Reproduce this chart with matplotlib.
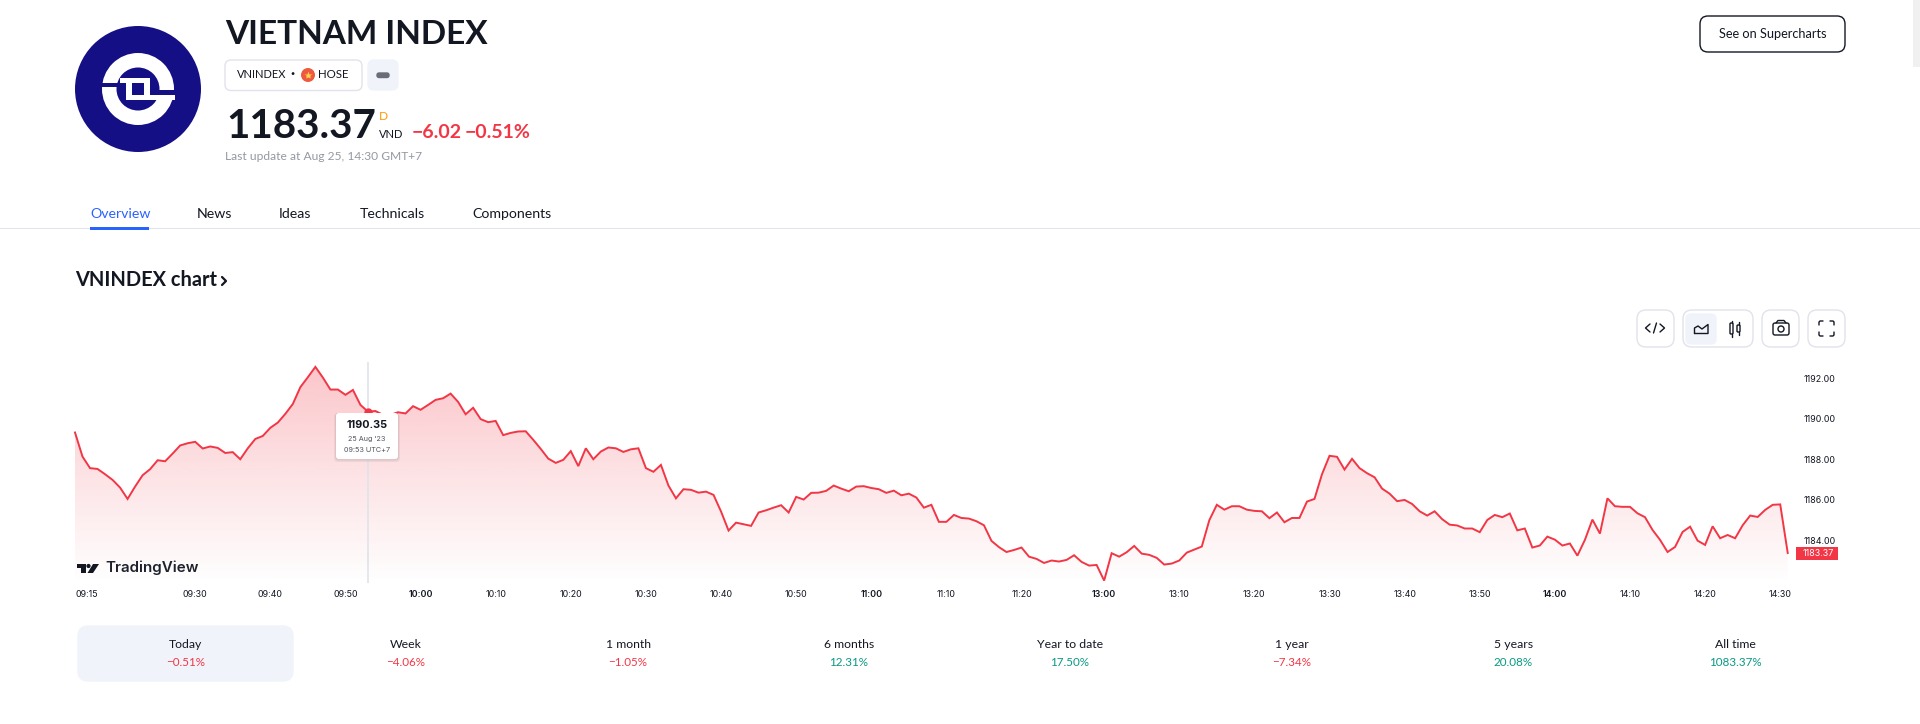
import numpy as np
import matplotlib
matplotlib.use("Agg")
import matplotlib.pyplot as plt
from matplotlib.lines import Line2D
from matplotlib.patches import Circle, FancyBboxPatch, Polygon, Rectangle
from matplotlib.transforms import blended_transform_factory

# one reading per minute
prices = [
    1189.32, 1188.13, 1187.56, 1187.52, 1187.26, 1186.98, 1186.60, 1186.04, 1186.65, 1187.21,
    1187.51, 1187.95, 1187.90, 1188.28, 1188.68, 1188.79, 1188.86, 1188.53, 1188.63, 1188.56,
    1188.31, 1188.35, 1188.00, 1188.54, 1189.00, 1189.15, 1189.55, 1189.81, 1190.24, 1190.73,
    1191.56, 1192.05, 1192.56, 1192.03, 1191.44, 1191.44, 1191.18, 1191.42, 1190.68, 1190.35,
    1190.38, 1190.19, 1190.19, 1190.32, 1190.26, 1190.62, 1190.44, 1190.68, 1190.93, 1191.01,
    1191.24, 1190.83, 1190.22, 1190.54, 1189.98, 1189.83, 1189.89, 1189.19, 1189.30, 1189.37,
    1189.38, 1188.96, 1188.51, 1188.03, 1187.82, 1187.97, 1188.40, 1187.66, 1188.54, 1188.00,
    1188.38, 1188.58, 1188.54, 1188.36, 1188.49, 1188.54, 1187.56, 1187.38, 1187.72, 1186.70,
    1186.07, 1186.52, 1186.49, 1186.35, 1186.40, 1186.24, 1185.42, 1184.48, 1184.87, 1184.79,
    1184.71, 1185.37, 1185.48, 1185.61, 1185.73, 1185.37, 1186.14, 1186.01, 1186.34, 1186.35,
    1186.44, 1186.70, 1186.55, 1186.42, 1186.65, 1186.67, 1186.58, 1186.52, 1186.34, 1186.45,
    1186.22, 1186.30, 1186.11, 1185.61, 1185.75, 1184.91, 1184.91, 1185.25, 1185.10, 1185.07,
    1184.94, 1184.74, 1183.97, 1183.66, 1183.42, 1183.52, 1183.64, 1183.19, 1183.08, 1182.88,
    1183.00, 1182.95, 1183.03, 1183.26, 1182.93, 1182.75, 1182.78, 1182.01, 1183.36, 1183.19,
    1183.41, 1183.72, 1183.34, 1183.28, 1183.13, 1182.80, 1182.85, 1183.00, 1183.39, 1183.54,
    1183.69, 1184.99, 1185.75, 1185.51, 1185.68, 1185.68, 1185.51, 1185.45, 1185.43, 1185.09,
    1185.37, 1184.89, 1185.10, 1185.10, 1185.91, 1186.04, 1187.26, 1188.17, 1188.12, 1187.49,
    1188.02, 1187.56, 1187.31, 1187.11, 1186.55, 1186.30, 1185.93, 1185.99, 1185.79, 1185.43,
    1185.22, 1185.43, 1185.04, 1184.77, 1184.73, 1184.58, 1184.58, 1184.40, 1185.00, 1185.25,
    1185.14, 1185.32, 1184.49, 1184.58, 1183.64, 1183.74, 1184.18, 1184.03, 1183.74, 1183.84,
    1183.24, 1184.02, 1185.02, 1184.33, 1186.07, 1185.68, 1185.65, 1185.65, 1185.33, 1185.14,
    1184.51, 1184.02, 1183.42, 1183.67, 1184.41, 1184.67, 1183.98, 1183.77, 1184.69, 1184.10,
    1184.26, 1184.10, 1184.74, 1185.22, 1185.15, 1185.50, 1185.75, 1185.77, 1183.37,
]
time_ticks = [0, 16, 26, 36, 46, 56, 66, 76, 86, 96, 106, 116, 126, 137, 147, 157, 167, 177, 187, 197, 207, 217, 227]
time_labels = ["09:15", "09:30", "09:40", "09:50", "10:00", "10:10", "10:20", "10:30", "10:40", "10:50", "11:00",
               "11:10", "11:20", "13:00", "13:10", "13:20", "13:30", "13:40", "13:50", "14:00", "14:10", "14:20", "14:30"]
bold_labels = ["10:00", "11:00", "13:00", "14:00"]
price_ticks = [1184, 1186, 1188, 1190, 1192]
hover_index = 39
period_names = ["Today", "Week", "1 month", "6 months", "Year to date", "1 year", "5 years", "All time"]
period_changes = ["−0.51%", "−4.06%", "−1.05%", "12.31%", "17.50%", "−7.34%", "20.08%", "1083.37%"]

INK = "#131722"
RED = "#f23645"
GREEN = "#089981"
BLUE = "#2962ff"
GREY = "#9598a1"
LINE = "#e0e3eb"
PALE = "#f0f3fa"
NAVY = "#140f85"
UI_FONT = "Lato"
CHART_FONT = "Inter"
WIDTH, HEIGHT = 1920, 724

plt.rcParams["font.family"] = [UI_FONT, "DejaVu Sans"]
fig = plt.figure(figsize=(WIDTH / 100, HEIGHT / 100), dpi=100, facecolor="white")


def px_axes(left, top, right, bottom, **kwargs):
    return fig.add_axes([left / WIDTH, 1 - bottom / HEIGHT, (right - left) / WIDTH, (bottom - top) / HEIGHT], **kwargs)


# --- chart ---
chart = px_axes(75, 362, 1800, 583, zorder=1)
chart.patch.set_alpha(0)
x = np.arange(len(prices))
chart.set_xlim(0, 1725 / 7.512)
chart.set_ylim(1181.89, 1192.80)

# red gradient under the line, clipped to the area
shade = np.ones((256, 1, 4))
shade[..., :3] = matplotlib.colors.to_rgb(RED)
shade[..., 3] = np.linspace(0.29, 0.0, 256)[:, None]
area = chart.fill_between(x, prices, 1181.89, color="none")
gradient = chart.imshow(shade, extent=(0, len(prices) - 1, 1181.89, 1192.80), origin="upper", aspect="auto", zorder=1)
gradient.set_clip_path(area.get_paths()[0], chart.transData)
chart.set_xlim(0, 1725 / 7.512)
chart.set_ylim(1181.89, 1192.80)

chart.axvline(hover_index, color=LINE, linewidth=1.2, zorder=2)
chart.plot(x, prices, color=RED, linewidth=1.4, solid_joinstyle="miter", zorder=3, clip_on=False)
chart.plot([hover_index], [prices[hover_index]], "o", color=RED, markersize=5, zorder=4, clip_on=False)

for side in chart.spines.values():
    side.set_visible(False)
chart.yaxis.tick_right()
chart.set_yticks(price_ticks, [f"{p:.2f}" for p in price_ticks], fontsize=6.4, family=CHART_FONT, color=INK)
chart.set_xticks(time_ticks, time_labels, fontsize=6.4, family=CHART_FONT, color=INK)
chart.tick_params(axis="both", length=0)
chart.tick_params(axis="x", pad=5)
chart.tick_params(axis="y", pad=2.5)
for tick in chart.get_xticklabels():
    if tick.get_text() in bold_labels:
        tick.set_fontweight("semibold")
chart.get_xticklabels()[0].set_ha("left")

# last price tag sits on the last value
tag_trans = blended_transform_factory(chart.transAxes, chart.transData)
chart.add_patch(Rectangle((1721 / 1725, prices[-1] - 0.32), 42 / 1725, 0.64, transform=tag_trans,
                          facecolor=RED, edgecolor="none", clip_on=False, zorder=5))
chart.text(1728 / 1725, prices[-1], f"{prices[-1]:.2f}", transform=tag_trans, color="white", fontsize=6.4,
           family=CHART_FONT, va="center", ha="left", zorder=6, clip_on=False)

# --- page furniture, drawn in pixel coordinates ---
ui = fig.add_axes([0, 0, 1, 1], zorder=2)
ui.patch.set_alpha(0)
ui.set_xlim(0, WIDTH)
ui.set_ylim(HEIGHT, 0)
ui.axis("off")


def label(px, py, text, size, color=INK, weight="normal", ha="left", family=UI_FONT):
    ui.text(px, py, text, fontsize=size, color=color, fontweight=weight, ha=ha, va="center", family=family)


def box(left, top, right, bottom, radius, face="white", edge=LINE, lw=1.0, z=1, alpha=None):
    ui.add_patch(FancyBboxPatch((left + radius, top + radius), right - left - 2 * radius, bottom - top - 2 * radius,
                                boxstyle=f"round,pad={radius}", facecolor=face, edgecolor=edge, linewidth=lw,
                                zorder=z, alpha=alpha))


def stroke(xs, ys, lw=1.0, color=INK):
    ui.add_line(Line2D(xs, ys, color=color, linewidth=lw, zorder=4, solid_capstyle="round", solid_joinstyle="round"))


def rect(left, top, right, bottom, color, z=3):
    ui.add_patch(Rectangle((left, top), right - left, bottom - top, facecolor=color, edgecolor="none", zorder=z))


# logo
ui.add_patch(Circle((138, 89), 63, facecolor=NAVY, edgecolor="none", zorder=1))
ui.add_patch(Circle((138, 89), 36, facecolor="white", edgecolor="none", zorder=2))
ui.add_patch(Circle((138, 89), 21.5, facecolor=NAVY, edgecolor="none", zorder=2))
rect(120, 77.5, 149.5, 82.5, "white")
rect(126, 77.5, 149.5, 100, "white")
rect(126, 95, 174.5, 100, "white")
rect(102, 82.5, 126, 86.5, NAVY)
rect(149.5, 89.5, 174.5, 95, NAVY)
rect(131.5, 82.5, 144, 95, NAVY, z=4)

# header
label(225, 34, "VIETNAM INDEX", 24, weight="bold")
box(225, 60, 362, 90.5, 6)
label(237, 75, "VNINDEX", 8, ha="left")
label(292, 74, "·", 11, ha="center", weight="bold")
ui.add_patch(Circle((308, 75), 7, facecolor="#ee5a3f", edgecolor="none", zorder=2))
ui.plot([308], [75], marker="*", markersize=6, color="#ffd34d", markeredgecolor="none", zorder=3)
label(318, 75, "HOSE", 8.3)
box(368, 60, 398, 90, 6, face=PALE, edge=PALE)
box(377, 73, 389, 77.5, 2, face="#6a6d78", edge="#6a6d78", z=2)
label(226, 127, "1183.37", 29, weight="bold")
label(379, 116.5, "D", 8.6, color="#ff9800")
label(379, 134.5, "VND", 8)
label(412, 133, "−6.02", 14, color=RED, weight="bold")
label(465, 133, "−0.51%", 14, color=RED, weight="bold")
label(225, 156, "Last update at Aug 25, 14:30 GMT+7", 8.65, color=GREY)

box(1700, 16, 1845, 52, 8, edge=INK, lw=1.0)
label(1772.5, 34, "See on Supercharts", 9.2, ha="center")
rect(1913, 0, 1920, 67, "#f0f0f0")

# tabs
tab_names = ["Overview", "News", "Ideas", "Technicals", "Components"]
tab_lefts = [90, 197, 279, 360, 472]
for name, left in zip(tab_names, tab_lefts):
    label(left, 213.5, name, 10.2, color=BLUE if name == "Overview" else INK)
rect(0, 228, WIDTH, 229, LINE, z=1)
rect(90, 227, 149, 230, BLUE)

label(75, 280, "VNINDEX chart", 14.4, weight="bold")
stroke([222, 226, 222], [277, 281, 285], lw=1.6)

# chart toolbar
box(1637, 310, 1674, 347, 9)
box(1683, 310, 1753, 347, 9)
box(1686, 314, 1716, 344, 5, face=PALE, edge=PALE, z=2)
box(1762, 310, 1799, 347, 9)
box(1808, 310, 1845, 347, 9)
stroke([1650, 1645.5, 1650], [324, 328, 332])
stroke([1660, 1664.5, 1660], [324, 328, 332])
stroke([1653.5, 1656.5], [333, 323])
stroke([1694.5, 1694.5, 1698, 1702, 1708, 1708, 1694.5], [333.5, 328, 326, 329, 324.5, 333.5, 333.5])
box(1730, 323, 1733, 334, 1, face="white", edge=INK, lw=1.0, z=3)
box(1737, 325, 1740, 332, 1, face="white", edge=INK, lw=1.0, z=3)
stroke([1731.5, 1731.5], [320.5, 323])
stroke([1731.5, 1731.5], [334, 336.5])
stroke([1738.5, 1738.5], [322, 325])
stroke([1738.5, 1738.5], [332, 335])
box(1773, 323, 1789, 335, 2, face="white", edge=INK, lw=1.0, z=3)
stroke([1776, 1778, 1784, 1786], [323, 320.5, 320.5, 323])
ui.add_patch(Circle((1781, 329), 3, facecolor="white", edgecolor=INK, linewidth=1.0, zorder=4))
for cx, dx in ((1819, 1), (1834, -1)):
    for cy, dy in ((321, 1), (336, -1)):
        stroke([cx + 4 * dx, cx + 1 * dx, cx, cx], [cy, cy, cy + 1 * dy, cy + 4 * dy])

# tooltip
box(334, 413, 400, 462, 4, face="#000000", edge="none", z=5, alpha=0.05)
box(335, 413, 399, 460.5, 4, face="#000000", edge="none", z=5, alpha=0.06)
box(336, 413, 398, 459, 3, face="white", edge="none", z=6)
ui.text(367, 425, f"{prices[hover_index]:.2f}", fontsize=7.8, color=INK, fontweight="bold", ha="center", va="center",
        family=CHART_FONT, zorder=7)
ui.text(367, 439, "25 Aug '23", fontsize=5.2, color="#50535e", ha="center", va="center", family=CHART_FONT, zorder=7)
ui.text(367, 450, "09:53 UTC+7", fontsize=5.2, color="#50535e", ha="center", va="center", family=CHART_FONT, zorder=7)

# TradingView mark
ui.add_patch(Polygon([(77, 564), (86, 564), (86, 573), (81, 573), (81, 568), (77, 568)], facecolor=INK, zorder=3))
ui.add_patch(Circle((88.5, 566), 2.1, facecolor=INK, zorder=3))
ui.add_patch(Polygon([(93, 564), (99, 564), (93, 573), (87.5, 573)], facecolor=INK, zorder=3))
label(105, 568, "TradingView", 10.9, weight="semibold", family="Inter", color="#1e222d")

# performance strip
box(78, 626, 293, 681, 10, face=PALE, edge=PALE)
period_centers = [186, 406, 628, 849, 1070, 1292, 1513.5, 1735]
for center, name, change in zip(period_centers, period_names, period_changes):
    label(center, 645, name, 8.8, ha="center")
    label(center, 663, change, 8.4, ha="center", color=RED if change.startswith("−") else GREEN)

fig.savefig("out.png", dpi=100, facecolor="white")
